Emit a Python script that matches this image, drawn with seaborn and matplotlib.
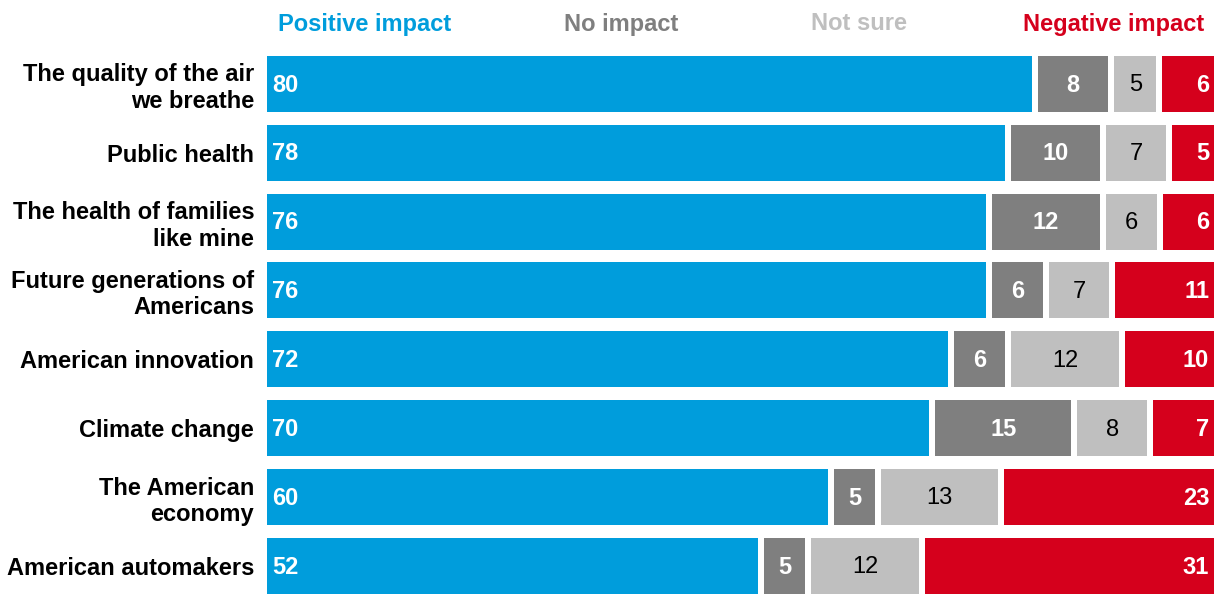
import numpy as np
import pandas as pd
import matplotlib
matplotlib.use("Agg")
import matplotlib.pyplot as plt
import seaborn as sns

categories = [
    "The quality of the air\nwe breathe",
    "Public health",
    "The health of families\nlike mine",
    "Future generations of\nAmericans",
    "American innovation",
    "Climate change",
    "The American\neconomy",
    "American automakers",
]
positive = [80, 78, 76, 76, 72, 70, 60, 52]
no_impact = [8, 10, 12, 6, 6, 15, 5, 5]
not_sure = [5, 7, 6, 7, 12, 8, 13, 12]
negative = [6, 5, 6, 11, 10, 7, 23, 31]

series_names = ["Positive impact", "No impact", "Not sure", "Negative impact"]
colors = ["#009DDC", "#7F7F7F", "#BFBFBF", "#D5001C"]
label_colors = ["white", "white", "black", "white"]
label_weights = ["bold", "bold", "normal", "bold"]

sns.set_theme(style="white")
plt.rcParams["font.family"] = ["Liberation Sans", "DejaVu Sans"]

W, H, DPI = 1214, 594, 100
fig = plt.figure(figsize=(W / DPI, H / DPI), dpi=DPI)

# axes geometry (pixels)
ax_left_px = 266.7
pitch_px = 68.9
row0_center_px = 83.7
top_px = row0_center_px - pitch_px / 2
bottom_data = 7 + (H - (row0_center_px + 7 * pitch_px)) / pitch_px
ax = fig.add_axes([ax_left_px / W, 0, 1 - ax_left_px / W, (H - top_px) / H])

gap_px = 6.0
vals = np.array([positive, no_impact, not_sure, negative], dtype=float).T
totals = vals.sum(axis=1, keepdims=True)
shares = vals / totals * 100
cums = np.cumsum(shares, axis=1)

scale = (W - ax_left_px) / 100.0
g = gap_px / scale
scale = (W - ax_left_px) / (100 - g / 2)
g = gap_px / scale

df = pd.DataFrame({"category": categories})
for k in range(4):
    df[f"cum{k}"] = cums[:, k] + g / 2

bar_w = (56 + gap_px) / pitch_px
lw_pt = gap_px * 72 / DPI
for k in [3, 2, 1, 0]:
    sns.barplot(data=df, y="category", x=f"cum{k}", orient="h", color=colors[k],
                saturation=1, errorbar=None, width=bar_w, edgecolor="white",
                linewidth=lw_pt, ax=ax, order=categories)

ax.set_xlim(g / 2, 100)
ax.set_ylim(bottom_data, -0.5)
ax.set_xticks([])
ax.set_xlabel("")
ax.set_ylabel("")
sns.despine(ax=ax, left=True, bottom=True)
ax.tick_params(axis="y", length=0, pad=9)
for t in ax.get_yticklabels():
    t.set_fontsize(17)
    t.set_fontweight("bold")
    t.set_color("black")

# value labels
for i in range(len(categories)):
    lefts = [g / 2] + list(cums[i, :3] + g)
    rights = list(cums[i, :])
    for k in range(4):
        v = vals[i, k]
        if k == 0:
            x, ha = lefts[0] + 0.55, "left"
        elif k == 3:
            x, ha = 100 - 0.5, "right"
        else:
            x, ha = (lefts[k] + rights[k]) / 2, "center"
        ax.text(x, i + 0.02, f"{int(v)}", ha=ha, va="center", fontsize=17,
                color=label_colors[k], fontweight=label_weights[k])

# header labels
header_x = [364.5, 621.5, 859, 1114]
for k in range(4):
    fig.text(header_x[k] / W, 1 - 24 / H, series_names[k], ha="center", va="center",
             fontsize=17, fontweight="bold", color=colors[k])

fig.savefig("out.png", dpi=DPI)
